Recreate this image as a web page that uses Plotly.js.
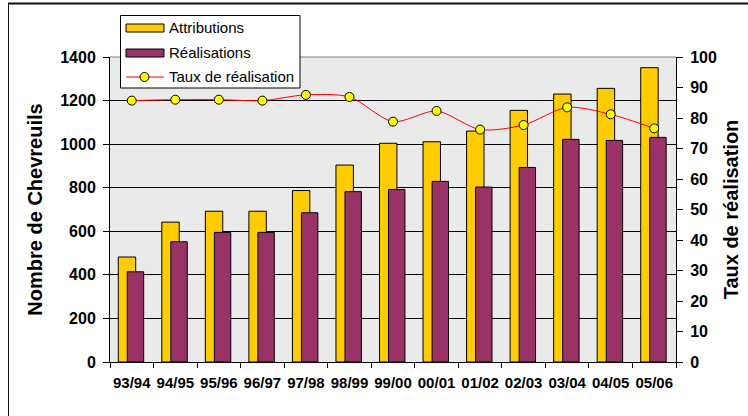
<!DOCTYPE html>
<html>
<head>
<meta charset="utf-8">
<script src="https://cdn.plot.ly/plotly-3.0.1.min.js"></script>
<style>
  html, body { margin: 0; padding: 0; background: #ffffff; }
  #chart { width: 748px; height: 416px; }
</style>
</head>
<body>
<div id="chart"></div>
<script>
// Saisons de chasse
const categories = ['93/94', '94/95', '95/96', '96/97', '97/98', '98/99', '99/00',
                    '00/01', '01/02', '02/03', '03/04', '04/05', '05/06'];
// Nombre de chevreuils attribués
const attributions = [482, 642, 692, 692, 787, 904, 1004, 1011, 1060, 1155, 1230, 1256, 1351];
// Nombre de chevreuils réalisés
const realisations = [414, 552, 595, 595, 685, 782, 792, 829, 803, 893, 1022, 1017, 1031];
// Taux de réalisation (%)
const tauxRealisation = [85.7, 86.0, 86.0, 85.7, 87.6, 86.9, 78.8, 82.3, 76.2, 77.7, 83.5, 81.2, 76.6];

const seriesNames = ['Attributions', 'Réalisations', 'Taux de réalisation'];
const leftTitle = 'Nombre de Chevreuils';
const rightTitle = 'Taux de réalisation';

const W = 748, H = 416;
const M = { l: 110, r: 72, t: 57, b: 54 };
const plotW = W - M.l - M.r, plotH = H - M.t - M.b;
// pixel -> paper coordinates (for frame and legend decorations)
const px = v => (v - M.l) / plotW;
const py = v => (H - M.b - v) / plotH;

const FONT = 'Liberation Sans, Arial, sans-serif';
const YELLOW = '#FFCC00', PURPLE = '#993366';

const traces = [
  {
    type: 'bar', name: seriesNames[0], x: categories, y: attributions,
    width: 0.40, offset: -0.31,
    marker: { color: YELLOW, line: { color: '#000000', width: 1 } },
    hoverinfo: 'x+y'
  },
  {
    type: 'bar', name: seriesNames[1], x: categories, y: realisations,
    width: 0.377, offset: -0.103,
    marker: { color: PURPLE, line: { color: '#000000', width: 1 } },
    hoverinfo: 'x+y'
  },
  {
    type: 'scatter', mode: 'lines+markers', name: seriesNames[2],
    x: categories, y: tauxRealisation, yaxis: 'y2',
    line: { color: '#FF0000', width: 1, shape: 'spline', smoothing: 0.8 },
    marker: { color: '#FFFF00', size: 9, line: { color: '#000000', width: 1 } }
  }
];

// hand-drawn legend box
const lg = { x0: 120.5, x1: 300, y0: 15.5, y1: 88 };
const rows = [28, 53, 77];
const sw = { x0: 126, x1: 164 };
const shapes = [
  // outer frame
  { type: 'line', xref: 'paper', yref: 'paper', x0: px(8), x1: px(760), y0: py(3.5), y1: py(3.5),
    line: { color: '#111111', width: 2 } },
  { type: 'line', xref: 'paper', yref: 'paper', x0: px(8.5), x1: px(8.5), y0: py(3), y1: py(430),
    line: { color: '#111111', width: 1 } },
  // top edge of the plotting area
  { type: 'line', xref: 'paper', yref: 'paper', x0: 0, x1: 1, y0: 1, y1: 1,
    line: { color: '#808080', width: 1 }, layer: 'above' },
  // legend
  { type: 'rect', xref: 'paper', yref: 'paper', x0: px(lg.x0), x1: px(lg.x1), y0: py(lg.y1), y1: py(lg.y0),
    fillcolor: '#ffffff', line: { color: '#000000', width: 1 }, layer: 'above' },
  { type: 'rect', xref: 'paper', yref: 'paper', x0: px(sw.x0), x1: px(sw.x1), y0: py(rows[0] + 4), y1: py(rows[0] - 4),
    fillcolor: YELLOW, line: { color: '#000000', width: 1 }, layer: 'above' },
  { type: 'rect', xref: 'paper', yref: 'paper', x0: px(sw.x0), x1: px(sw.x1), y0: py(rows[1] + 4), y1: py(rows[1] - 4),
    fillcolor: PURPLE, line: { color: '#000000', width: 1 }, layer: 'above' },
  { type: 'line', xref: 'paper', yref: 'paper', x0: px(sw.x0), x1: px(sw.x1), y0: py(rows[2]), y1: py(rows[2]),
    line: { color: '#FF0000', width: 1 }, layer: 'above' },
  { type: 'circle', xref: 'paper', yref: 'paper', x0: px(140), x1: px(149), y0: py(rows[2] + 4.5), y1: py(rows[2] - 4.5),
    fillcolor: '#FFFF00', line: { color: '#000000', width: 1 }, layer: 'above' }
];

const annotations = seriesNames.map((name, i) => ({
  xref: 'paper', yref: 'paper', x: px(167), y: py(rows[i] - 0.5),
  xanchor: 'left', yanchor: 'middle', showarrow: false, text: name,
  font: { family: FONT, size: 15, color: '#000000' }
}));

const layout = {
  width: W, height: H,
  margin: M,
  paper_bgcolor: '#ffffff',
  plot_bgcolor: '#EAEAEA',
  showlegend: false,
  barmode: 'overlay',
  font: { family: FONT, color: '#000000' },
  xaxis: {
    type: 'category', range: [-0.5, 12.5],
    showline: true, linecolor: '#000000', linewidth: 1,
    ticks: 'outside', tickson: 'boundaries', ticklen: 5, tickcolor: '#000000',
    tickangle: 0, ticklabelstandoff: 7,
    tickfont: { family: FONT, size: 15, weight: 'bold', color: '#000000' },
    showgrid: false, zeroline: false, fixedrange: true
  },
  yaxis: {
    range: [0, 1400], dtick: 200, tick0: 0,
    showline: true, linecolor: '#000000', linewidth: 1,
    ticks: 'outside', ticklen: 6, tickcolor: '#000000',
    ticklabelstandoff: 4,
    tickfont: { family: FONT, size: 16, weight: 'bold', color: '#000000' },
    showgrid: true, gridcolor: '#000000', gridwidth: 1, zeroline: false,
    title: { text: leftTitle, standoff: 12,
             font: { family: FONT, size: 20, weight: 'bold', color: '#000000' } },
    automargin: false, fixedrange: true
  },
  yaxis2: {
    overlaying: 'y', side: 'right',
    range: [0, 100], dtick: 10, tick0: 0,
    showline: true, linecolor: '#000000', linewidth: 1,
    ticks: 'outside', ticklen: 6, tickcolor: '#000000',
    ticklabelstandoff: 4,
    tickfont: { family: FONT, size: 16, weight: 'bold', color: '#000000' },
    showgrid: false, zeroline: false,
    title: { text: rightTitle, standoff: 8,
             font: { family: FONT, size: 20, weight: 'bold', color: '#000000' } },
    automargin: false, fixedrange: true
  },
  shapes: shapes,
  annotations: annotations
};

Plotly.newPlot('chart', traces, layout, { displayModeBar: false, staticPlot: true });
</script>
</body>
</html>
